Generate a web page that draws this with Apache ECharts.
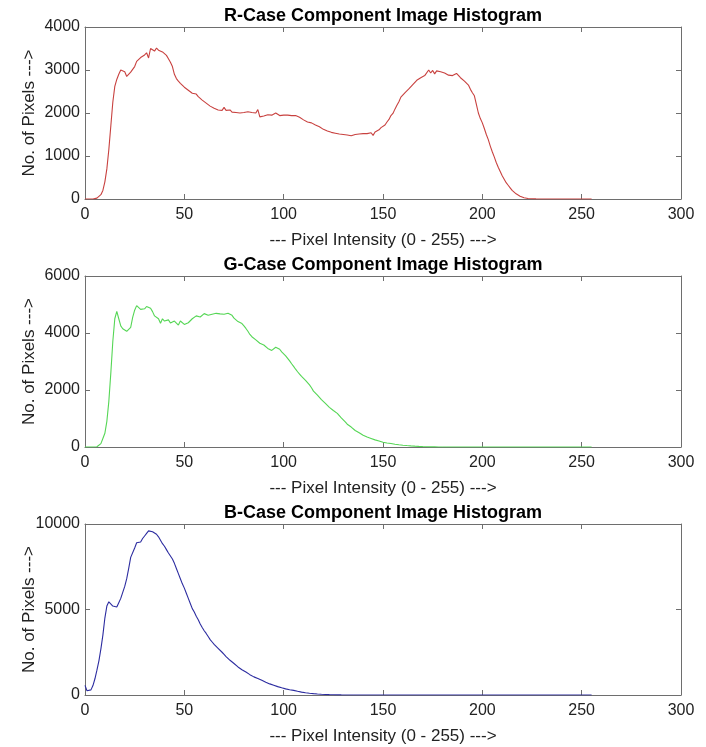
<!DOCTYPE html>
<html>
<head>
<meta charset="utf-8">
<script src="https://cdn.jsdelivr.net/npm/echarts@6/dist/echarts.min.js"></script>
<style>html,body{margin:0;padding:0;background:#fff}#c{width:706px;height:747px}</style>
</head>
<body>
<div id="c"></div>
<script>
// Histogram counts for pixel intensities 0..255
const rCounts = [
0,0,0,0,0,5,20,50,100,200,
400,700,1150,1700,2250,2620,2780,2900,3000,3020,
2960,2850,2880,2950,2920,3080,3200,3230,3290,3320,
3350,3400,3280,3500,3460,3440,3510,3460,3450,3420,
3380,3340,3260,3180,3080,2900,2800,2740,2690,2650,
2600,2560,2530,2490,2460,2420,2440,2380,2400,2300,
2270,2230,2190,2160,2120,2110,2100,2070,2080,2060,
2130,2060,2050,2070,2020,2040,2010,2030,2000,2030,
2010,1990,2030,2000,2010,1990,2000,2080,1910,1920,
1930,1910,1960,1930,1950,1970,2000,1960,1940,1960,
1950,1990,1950,1970,1940,1960,1940,1910,1900,1880,
1840,1830,1790,1760,1770,1730,1720,1710,1680,1650,
1620,1600,1580,1570,1550,1540,1530,1520,1510,1530,
1500,1510,1490,1500,1470,1460,1500,1520,1510,1500,
1520,1500,1520,1510,1540,1480,1560,1590,1610,1660,
1680,1720,1790,1850,1940,1990,2090,2180,2260,2370,
2400,2470,2430,2560,2600,2660,2700,2760,2790,2820,
2840,2870,2890,3000,2930,2990,2910,2980,2960,2960,
2950,2930,2900,2880,2850,2870,2900,2920,2880,2820,
2790,2740,2700,2650,2550,2470,2400,2200,2000,1870,
1770,1640,1500,1380,1230,1100,980,850,740,640,
540,460,380,320,260,200,160,120,90,65,
45,30,20,12,8,5,3,2,1,0,
0,0,0,0,0,0,0,0,0,0,
0,0,0,0,0,0,0,0,0,0,
0,0,0,0,0,0
];
const gCounts = [
0,0,0,0,0,0,10,40,120,300,
480,900,1600,2600,3700,4500,4760,4500,4250,4150,
4100,4060,4050,4200,4550,4800,4960,4900,4830,4800,
4850,4930,4910,4870,4750,4600,4550,4500,4340,4500,
4420,4400,4460,4350,4300,4420,4380,4280,4420,4400,
4300,4310,4360,4420,4500,4570,4600,4630,4560,4620,
4680,4650,4620,4680,4660,4620,4690,4640,4670,4630,
4660,4620,4690,4650,4620,4520,4460,4400,4380,4330,
4250,4160,4060,3950,3870,3830,3760,3720,3640,3620,
3580,3560,3460,3480,3390,3440,3500,3440,3430,3340,
3280,3200,3130,3020,2920,2830,2730,2640,2560,2480,
2420,2340,2290,2180,2080,1960,1900,1820,1750,1660,
1600,1530,1460,1390,1350,1280,1220,1180,1110,1020,
950,880,800,740,700,640,580,540,500,450,
410,380,350,320,300,280,250,225,210,190,
165,155,140,130,120,108,98,90,80,72,
64,58,52,46,41,36,31,26,22,18,
14,12,10,8,6,5,4,3,2,2,
1,0,0,0,0,0,0,0,0,0,
0,0,0,0,0,0,0,0,0,0,
0,0,0,0,0,0,0,0,0,0,
0,0,0,0,0,0,0,0,0,0,
0,0,0,0,0,0,0,0,0,0,
0,0,0,0,0,0,0,0,0,0,
0,0,0,0,0,0,0,0,0,0,
0,0,0,0,0,0
];
const bCounts = [
560,250,180,300,550,950,1450,2000,2700,3500,
4500,5200,5450,5380,5200,5150,5150,5400,5650,6000,
6350,6800,7400,8050,8150,8600,8900,8950,8950,9150,
9300,9450,9600,9520,9550,9500,9400,9250,9050,8850,
8700,8500,8300,8200,7950,7700,7400,7100,6800,6500,
6250,5950,5650,5350,5050,4850,4600,4400,4150,3950,
3760,3600,3420,3240,3100,2960,2860,2730,2620,2500,
2380,2250,2140,2030,1930,1840,1740,1640,1560,1480,
1400,1340,1260,1190,1130,1060,1010,970,910,860,
790,750,700,650,610,570,530,490,460,420,
390,360,340,310,290,270,240,215,190,170,
150,135,120,105,92,80,70,60,50,42,
36,30,25,20,16,13,10,8,6,5,
4,3,2,2,1,0,0,0,0,0,
0,0,0,0,0,0,0,0,0,0,
0,0,0,0,0,0,0,0,0,0,
0,0,0,0,0,0,0,0,0,0,
0,0,0,0,0,0,0,0,0,0,
0,0,0,0,0,0,0,0,0,0,
0,0,0,0,0,0,0,0,0,0,
0,0,0,0,0,0,0,0,0,0,
0,0,0,0,0,0,0,0,0,0,
0,0,0,0,0,0,0,0,0,0,
0,0,0,0,0,0,0,0,0,0,
0,0,0,0,0,0,0,0,0,0,
0,0,0,0,0,0
];
const titles = ['R-Case Component Image Histogram','G-Case Component Image Histogram','B-Case Component Image Histogram'];
const yMaxes = [4000, 6000, 10000];
const yIntervals = [1000, 2000, 5000];
const xTicks = {min: 0, max: 300, interval: 50};
const xLabel = '--- Pixel Intensity (0 - 255) --->';
const yLabel = 'No. of Pixels --->';
const lineColors = ['#c8413f', '#55d655', '#2c2ca0'];

const FONT = '"Liberation Sans", Arial, Helvetica, sans-serif';
const axisColor = '#6e6e6e';
const grids = [
  {left: 85, top: 27, width: 596, height: 172, containLabel: false, outerBoundsMode: 'none'},
  {left: 85, top: 276, width: 596, height: 171, containLabel: false, outerBoundsMode: 'none'},
  {left: 85, top: 524, width: 596, height: 171, containLabel: false, outerBoundsMode: 'none'}
];
const titleTops = [7, 256, 504];

const allCounts = [rCounts, gCounts, bCounts];
const xAxes = [], yAxes = [], series = [], titleOpts = [];
const plain = v => String(v);
grids.forEach((g, i) => {
  const common = {
    gridIndex: i, type: 'value',
    axisLine: {show: true, onZero: false, lineStyle: {color: axisColor, width: 1}},
    axisTick: {show: true, inside: true, length: 5, lineStyle: {color: axisColor}},
    splitLine: {show: false}
  };
  xAxes.push(Object.assign({}, common, {
    position: 'bottom', min: xTicks.min, max: xTicks.max, interval: xTicks.interval,
    axisLabel: {fontSize: 16, color: '#222', margin: 8, fontFamily: FONT, formatter: plain},
    name: xLabel, nameLocation: 'middle', nameGap: 33, nameMoveOverlap: false,
    nameTextStyle: {fontSize: 17, color: '#222', fontFamily: FONT}
  }));
  xAxes.push(Object.assign({}, common, {
    position: 'top', min: xTicks.min, max: xTicks.max, interval: xTicks.interval,
    axisLabel: {show: false}
  }));
  yAxes.push(Object.assign({}, common, {
    position: 'left', min: 0, max: yMaxes[i], interval: yIntervals[i],
    axisLabel: {fontSize: 16, color: '#222', margin: 5, fontFamily: FONT, formatter: plain},
    name: yLabel, nameLocation: 'middle', nameGap: 47, nameRotate: 90, nameMoveOverlap: false,
    nameTextStyle: {fontSize: 17, color: '#222', fontFamily: FONT}
  }));
  yAxes.push(Object.assign({}, common, {
    position: 'right', min: 0, max: yMaxes[i], interval: yIntervals[i],
    axisLabel: {show: false}
  }));
  titleOpts.push({
    text: titles[i], left: 383, top: titleTops[i], textAlign: 'center', padding: 0,
    textStyle: {fontSize: 18, fontWeight: 'bold', color: '#000', fontFamily: FONT}
  });
  series.push({
    type: 'line', xAxisIndex: i * 2, yAxisIndex: i * 2,
    data: allCounts[i].map((v, k) => [k, v]),
    showSymbol: false, symbol: 'none', smooth: false,
    lineStyle: {color: lineColors[i], width: 1.1},
    animation: false
  });
});

const chart = echarts.init(document.getElementById('c'), null, {renderer: 'canvas'});
chart.setOption({
  backgroundColor: '#fff',
  animation: false,
  title: titleOpts,
  grid: grids,
  xAxis: xAxes,
  yAxis: yAxes,
  series: series
});
</script>
</body>
</html>
